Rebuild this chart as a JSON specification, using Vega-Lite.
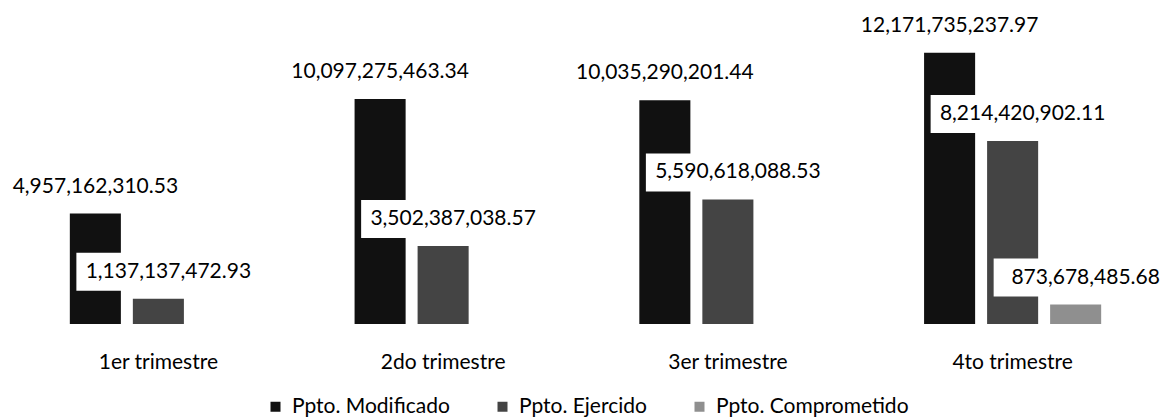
{
  "$schema": "https://vega.github.io/schema/vega-lite/v6.json",
  "autosize": {"type": "none"},
  "width": 1139,
  "height": 312,
  "padding": {"left": 16, "top": 12, "right": 11, "bottom": 94},
  "background": "white",
  "data": {
    "values": [
      {"trimestre": "1er trimestre", "serie": "Ppto. Modificado", "valor": 4957162310.53},
      {"trimestre": "1er trimestre", "serie": "Ppto. Ejercido", "valor": 1137137472.93},
      {"trimestre": "2do trimestre", "serie": "Ppto. Modificado", "valor": 10097275463.34},
      {"trimestre": "2do trimestre", "serie": "Ppto. Ejercido", "valor": 3502387038.57},
      {"trimestre": "3er trimestre", "serie": "Ppto. Modificado", "valor": 10035290201.44},
      {"trimestre": "3er trimestre", "serie": "Ppto. Ejercido", "valor": 5590618088.53},
      {"trimestre": "4to trimestre", "serie": "Ppto. Modificado", "valor": 12171735237.97},
      {"trimestre": "4to trimestre", "serie": "Ppto. Ejercido", "valor": 8214420902.11},
      {"trimestre": "4to trimestre", "serie": "Ppto. Comprometido", "valor": 873678485.68}
    ]
  },
  "encoding": {
    "x": {
      "field": "trimestre",
      "type": "nominal",
      "sort": ["1er trimestre", "2do trimestre", "3er trimestre", "4to trimestre"],
      "scale": {"paddingInner": 0.336, "paddingOuter": 0.168},
      "axis": {
        "title": null,
        "domain": false,
        "ticks": false,
        "labelAngle": 0,
        "labelFont": "Lato",
        "labelFontSize": 21,
        "labelColor": "#000000",
        "labelPadding": 27
      }
    },
    "xOffset": {
      "field": "serie",
      "type": "nominal",
      "scale": {
        "domain": ["Ppto. Modificado", "Ppto. Ejercido", "Ppto. Comprometido"],
        "paddingInner": 0.19,
        "paddingOuter": 0.095
      }
    },
    "y": {
      "field": "valor",
      "type": "quantitative",
      "scale": {"domain": [0, 14000000000], "nice": false},
      "axis": null
    }
  },
  "layer": [
    {
      "mark": {"type": "bar"},
      "encoding": {
        "color": {
          "field": "serie",
          "type": "nominal",
          "scale": {
            "domain": ["Ppto. Modificado", "Ppto. Ejercido", "Ppto. Comprometido"],
            "range": ["#111111", "#444444", "#8f8f8f"]
          },
          "legend": {
            "title": null,
            "orient": "none",
            "direction": "horizontal",
            "legendX": 249,
            "legendY": 384,
            "symbolType": "square",
            "symbolSize": 100,
            "symbolStrokeWidth": 0,
            "labelFont": "Lato",
            "labelFontSize": 21,
            "labelColor": "#000000",
            "labelOffset": 6,
            "labelLimit": 0,
            "columnPadding": 42,
            "padding": 0
          }
        }
      }
    },
    {
      "transform": [{"filter": "datum.serie !== 'Ppto. Modificado'"}],
      "mark": {
        "type": "point",
        "shape": "M-0.82,-0.46H1.02V-0.08H-0.82Z",
        "filled": true,
        "color": "#ffffff",
        "opacity": 1,
        "size": 40000,
        "strokeWidth": 0
      },
      "encoding": {}
    },
    {
      "transform": [{"filter": "datum.serie === 'Ppto. Modificado'"}],
      "mark": {"type": "text", "dy": -27, "baseline": "middle", "font": "Lato", "fontSize": 21, "color": "#000000"},
      "encoding": {"text": {"field": "valor", "type": "quantitative", "format": ",.2f"}}
    },
    {
      "transform": [{"filter": "datum.serie !== 'Ppto. Modificado'"}],
      "mark": {"type": "text", "dx": 10, "dy": -27, "baseline": "middle", "font": "Lato", "fontSize": 21, "color": "#000000"},
      "encoding": {"text": {"field": "valor", "type": "quantitative", "format": ",.2f"}}
    }
  ],
  "config": {"view": {"stroke": null}}
}
